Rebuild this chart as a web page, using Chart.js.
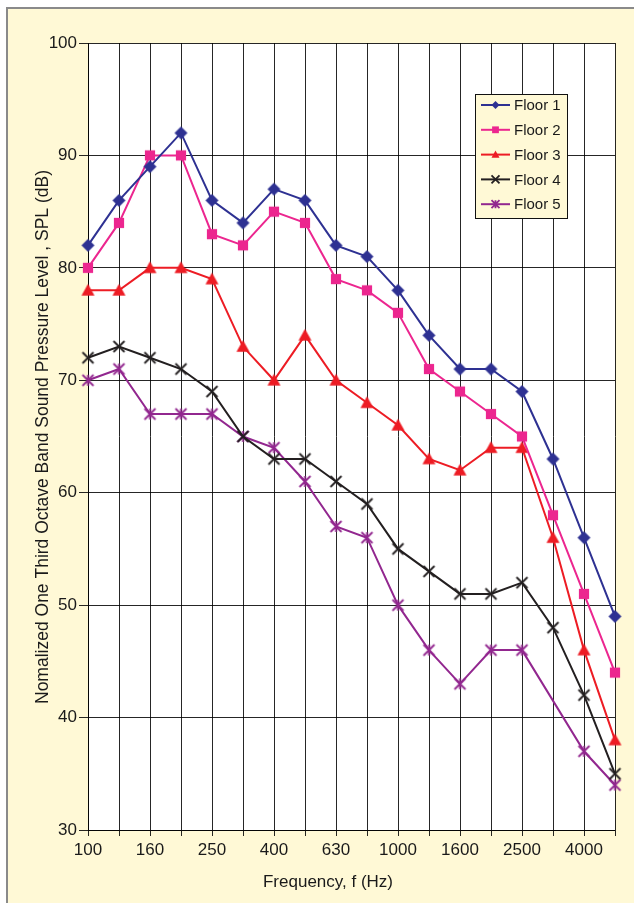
<!DOCTYPE html>
<html>
<head>
<meta charset="utf-8">
<script src="https://cdn.jsdelivr.net/npm/chart.js@4.4.0/dist/chart.umd.min.js"></script>
<style>
    html, body { margin: 0; padding: 0; background: #fff; overflow: hidden; }
    #frame {
        position: absolute; left: 6px; top: 7px; width: 640px; height: 910px;
        background: #FFF9D6; border-left: 2px solid #8a8a8a; border-top: 2px solid #8a8a8a;
    }
    #chart { position: absolute; left: 0; top: 0; }
</style>
</head>
<body>
<div id="frame"></div>
<canvas id="chart" width="634" height="903"></canvas>
<script>
// one-third octave band centre frequencies (Hz)
const freqLabels = ['100', '125', '160', '200', '250', '315', '400', '500', '630', '800',
    '1000', '1250', '1600', '2000', '2500', '3150', '4000', '5000'];

// normalized SPL (dB) per floor
const floor1 = [82, 86, 89, 92, 86, 84, 87, 86, 82, 81, 78, 74, 71, 71, 69, 63, 56, 49];
const floor2 = [80, 84, 90, 90, 83, 82, 85, 84, 79, 78, 76, 71, 69, 67, 65, 58, 51, 44];
const floor3 = [78, 78, 80, 80, 79, 73, 70, 74, 70, 68, 66, 63, 62, 64, 64, 56, 46, 38];
const floor4 = [72, 73, 72, 71, 69, 65, 63, 63, 61, 59, 55, 53, 51, 51, 52, 48, 42, 35];
const floor5 = [70, 71, 67, 67, 67, 65, 64, 61, 57, 56, 50, 46, 43, 46, 46, null, 37, 34];

const seriesNames = ['Floor 1', 'Floor 2', 'Floor 3', 'Floor 4', 'Floor 5'];
const seriesColors = ['#2E3192', '#EC268F', '#ED1C24', '#231F20', '#92278F'];
const seriesMarkers = ['diamond', 'square', 'triangle', 'cross', 'star'];

const FONT = '"Liberation Sans", Arial, sans-serif';
const CREAM = '#FFF9D6';
const TEXT = '#1a1a1a';

// --- marker drawing (Excel-like shapes) ---
function drawMarker(ctx, style, x, y, s, color) {
    const h = s / 2;
    ctx.save();
    ctx.fillStyle = color;
    ctx.strokeStyle = color;
    ctx.lineWidth = 1.8;
    ctx.beginPath();
    if (style === 'diamond') {
        ctx.moveTo(x, y - h); ctx.lineTo(x + h, y); ctx.lineTo(x, y + h); ctx.lineTo(x - h, y);
        ctx.closePath(); ctx.fill();
    } else if (style === 'square') {
        const q = h * 0.85;
        ctx.rect(x - q, y - q, 2 * q, 2 * q); ctx.fill();
    } else if (style === 'triangle') {
        ctx.moveTo(x, y - h); ctx.lineTo(x + h, y + h * 0.8); ctx.lineTo(x - h, y + h * 0.8);
        ctx.closePath(); ctx.fill();
    } else if (style === 'cross') {
        ctx.moveTo(x - h, y - h); ctx.lineTo(x + h, y + h);
        ctx.moveTo(x - h, y + h); ctx.lineTo(x + h, y - h); ctx.stroke();
    } else if (style === 'star') {
        ctx.moveTo(x - h, y - h); ctx.lineTo(x + h, y + h);
        ctx.moveTo(x - h, y + h); ctx.lineTo(x + h, y - h);
        ctx.moveTo(x, y - h); ctx.lineTo(x, y + h); ctx.stroke();
    }
    ctx.restore();
}

function makeMarker(style, color, s) {
    const c = document.createElement('canvas');
    c.width = s + 4; c.height = s + 4;
    drawMarker(c.getContext('2d'), style, c.width / 2, c.height / 2, s, color);
    return c;
}

const markerSizes = [13, 12, 13, 11, 11];

const datasets = [floor1, floor2, floor3, floor4, floor5].map((data, i) => ({
    label: seriesNames[i],
    data: data,
    borderColor: seriesColors[i],
    backgroundColor: seriesColors[i],
    borderWidth: 2,
    tension: 0,
    spanGaps: true,
    pointStyle: makeMarker(seriesMarkers[i], seriesColors[i], markerSizes[i]),
    pointRadius: 6
}));

// --- plugins ---
const plotBackground = {
    id: 'plotBackground',
    beforeDraw(chart) {
        const { ctx, chartArea: a } = chart;
        ctx.save();
        ctx.fillStyle = '#fff';
        ctx.fillRect(a.left, a.top, a.right - a.left, a.bottom - a.top);
        ctx.restore();
    }
};

const axisTitles = {
    id: 'axisTitles',
    afterDraw(chart) {
        const ctx = chart.ctx;
        ctx.save();
        ctx.fillStyle = TEXT;
        ctx.font = '17px ' + FONT;
        ctx.textAlign = 'center';
        ctx.textBaseline = 'middle';
        ctx.fillText('Frequency, f (Hz)', 328, 882);
        ctx.translate(43, 437);
        ctx.rotate(-Math.PI / 2);
        ctx.font = '17.5px ' + FONT;
        ctx.fillText('Nomalized One Third Octave Band Sound Pressure Level , SPL (dB)', 0, 0);
        ctx.restore();
    }
};

const floatLegend = {
    id: 'floatLegend',
    afterDraw(chart) {
        const ctx = chart.ctx;
        const box = { x: 475.5, y: 94.5, w: 92, h: 124 };
        ctx.save();
        ctx.fillStyle = CREAM;
        ctx.fillRect(box.x, box.y, box.w, box.h);
        ctx.strokeStyle = '#111';
        ctx.lineWidth = 1;
        ctx.strokeRect(box.x, box.y, box.w, box.h);
        ctx.font = '15px ' + FONT;
        ctx.textBaseline = 'middle';
        ctx.textAlign = 'left';
        seriesNames.forEach((name, i) => {
            const y = 105 + i * 24.8;
            ctx.strokeStyle = seriesColors[i];
            ctx.lineWidth = 2;
            ctx.beginPath();
            ctx.moveTo(481, y); ctx.lineTo(510, y); ctx.stroke();
            drawMarker(ctx, seriesMarkers[i], 495.5, y, 8, seriesColors[i]);
            ctx.fillStyle = TEXT;
            ctx.fillText(name, 514, y + 1);
        });
        ctx.restore();
    }
};

const gridColor = 'rgba(0,0,0,0.85)';

new Chart(document.getElementById('chart'), {
    type: 'line',
    data: { labels: freqLabels, datasets: datasets },
    plugins: [plotBackground, axisTitles, floatLegend],
    options: {
        responsive: false,
        animation: false,
        devicePixelRatio: 1,
        layout: { padding: { left: 0, top: 43, right: 19, bottom: 0 } },
        plugins: {
            legend: { display: false },
            tooltip: { enabled: false }
        },
        scales: {
            x: {
                type: 'category',
                offset: false,
                grid: { color: gridColor, lineWidth: 1, tickLength: 6 },
                border: { color: gridColor },
                ticks: {
                    autoSkip: false,
                    maxRotation: 0,
                    padding: 4,
                    color: TEXT,
                    font: { family: FONT, size: 17 },
                    callback: function (v, i) { return i % 2 === 0 ? this.getLabelForValue(v) : ''; }
                },
                afterFit: s => { s.height = 73; }
            },
            y: {
                min: 30,
                max: 100,
                grid: { color: gridColor, lineWidth: 1, tickLength: 9 },
                border: { color: gridColor },
                ticks: {
                    stepSize: 10,
                    padding: 2,
                    color: TEXT,
                    font: { family: FONT, size: 17 }
                },
                afterFit: s => { s.width = 88; }
            }
        }
    }
});
</script>
</body>
</html>
